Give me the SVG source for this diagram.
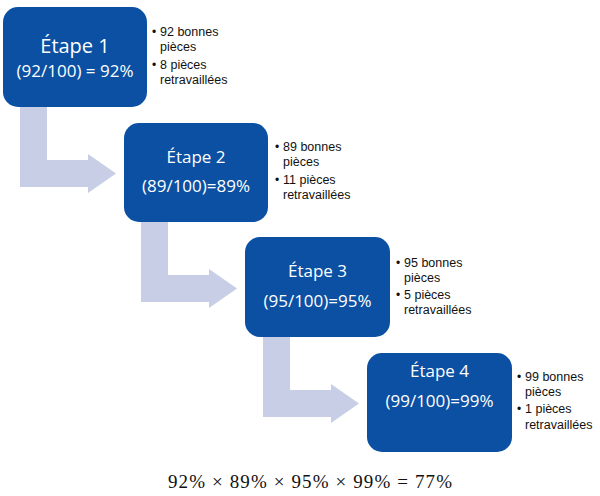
<svg xmlns="http://www.w3.org/2000/svg" width="600" height="496" viewBox="0 0 600 496">
<defs>
<style>
.box{fill:#0b50a2;}
.arr{fill:#c7cee6;}
.t{font-family:"Open Sans","DejaVu Sans",sans-serif;fill:#fff;text-anchor:middle;}
.s{font-family:"Liberation Sans","Noto Sans",sans-serif;fill:#111;font-size:12.5px;}
.b{font-family:"Liberation Sans","Noto Sans",sans-serif;fill:#111;font-size:12px;}
.m{font-family:"Liberation Serif","DejaVu Serif",serif;fill:#111;font-size:19px;}
</style>
<path id="bent" d="M20,107 H47 V160 H88 V154 L116,173.5 L88,193 V187 H20 Z"/>
</defs>
<g id="connectors">
<use href="#bent" class="arr"/>
<use href="#bent" class="arr" transform="translate(121,115)"/>
<use href="#bent" class="arr" transform="translate(243,230)"/>
</g>
<g id="etape1">
<rect class="box" x="3" y="7" width="144" height="100" rx="15"/>
<text class="t" x="75" y="53" font-size="20">Étape 1</text>
<text class="t" x="75" y="77" font-size="17">(92/100) = 92%</text>
<text class="b" x="152" y="36">•</text>
<text class="s" x="160" y="36">92 bonnes</text>
<text class="s" x="160" y="51">pièces</text>
<text class="b" x="152" y="69">•</text>
<text class="s" x="160" y="69">8 pièces</text>
<text class="s" x="160" y="84">retravaillées</text>
</g>
<g id="etape2">
<rect class="box" x="124" y="123" width="144" height="99" rx="15"/>
<text class="t" x="196" y="163" font-size="17">Étape 2</text>
<text class="t" x="196" y="192" font-size="17">(89/100)=89%</text>
<text class="b" x="275" y="151">•</text>
<text class="s" x="283" y="151">89 bonnes</text>
<text class="s" x="283" y="166">pièces</text>
<text class="b" x="275" y="184">•</text>
<text class="s" x="283" y="184">11 pièces</text>
<text class="s" x="283" y="199">retravaillées</text>
</g>
<g id="etape3">
<rect class="box" x="245" y="237" width="145" height="100" rx="15"/>
<text class="t" x="317.5" y="277" font-size="17">Étape 3</text>
<text class="t" x="317.5" y="307" font-size="17">(95/100)=95%</text>
<text class="b" x="396" y="267">•</text>
<text class="s" x="404" y="267">95 bonnes</text>
<text class="s" x="404" y="282">pièces</text>
<text class="b" x="396" y="299">•</text>
<text class="s" x="404" y="299">5 pièces</text>
<text class="s" x="404" y="314">retravaillées</text>
</g>
<g id="etape4">
<rect class="box" x="367" y="353" width="145" height="99" rx="15"/>
<text class="t" x="439.5" y="377" font-size="17">Étape 4</text>
<text class="t" x="439.5" y="407" font-size="17">(99/100)=99%</text>
<text class="b" x="517" y="381">•</text>
<text class="s" x="525" y="381">99 bonnes</text>
<text class="s" x="525" y="396">pièces</text>
<text class="b" x="517" y="413">•</text>
<text class="s" x="525" y="413">1 pièces</text>
<text class="s" x="525" y="429">retravaillées</text>
</g>
<text class="m" x="168" y="488" textLength="284" lengthAdjust="spacing">92% × 89% × 95% × 99% = 77%</text>
</svg>
